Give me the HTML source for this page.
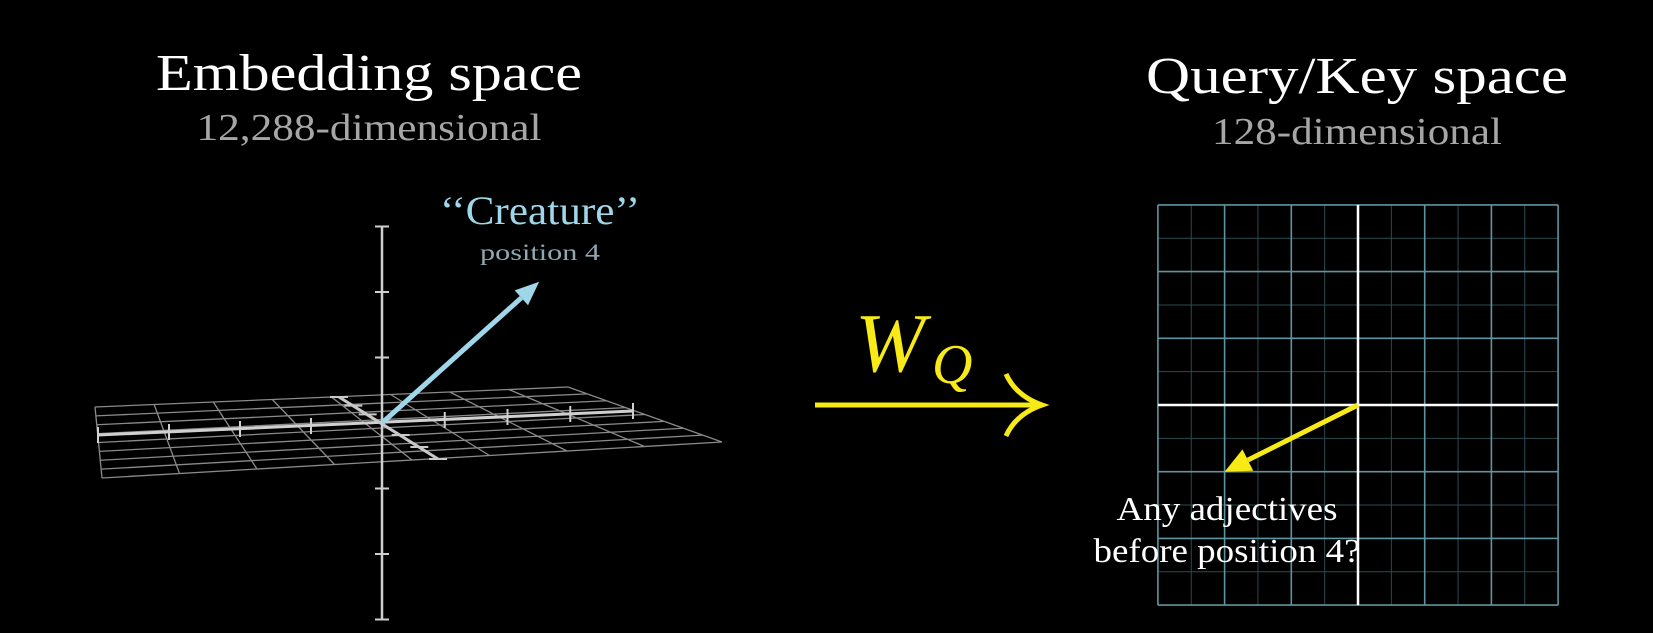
<!DOCTYPE html>
<html><head><meta charset="utf-8"><style>
html,body{margin:0;padding:0;background:#000;}
svg{display:block}
text{font-family:"Liberation Serif",serif}
</style></head><body>
<svg id="c" width="1653" height="633" viewBox="0 0 1653 633">
<rect width="1653" height="633" fill="#000"/>
<text x="369" y="90" font-size="52" fill="#fff" text-anchor="middle" textLength="426" lengthAdjust="spacingAndGlyphs">Embedding space</text>
<text x="369" y="140" font-size="38" fill="#a6a6a6" text-anchor="middle" textLength="345" lengthAdjust="spacingAndGlyphs">12,288-dimensional</text>
<text x="1357" y="93" font-size="52" fill="#fff" text-anchor="middle" textLength="422" lengthAdjust="spacingAndGlyphs">Query/Key space</text>
<text x="1357" y="144" font-size="38" fill="#a6a6a6" text-anchor="middle" textLength="290" lengthAdjust="spacingAndGlyphs">128-dimensional</text>
<text x="540" y="224" font-size="40" fill="#9fd6e9" text-anchor="middle" textLength="200" lengthAdjust="spacingAndGlyphs">‘‘Creature’’</text>
<text x="540" y="260" font-size="23" fill="#8fa9b3" text-anchor="middle" textLength="120" lengthAdjust="spacingAndGlyphs">position 4</text>
<g id="left"></g>
<g id="right"></g>
<g>
<text x="855" y="371" font-size="84" font-style="italic" fill="#f7ea16">W</text>
<text x="932" y="383" font-size="56" font-style="italic" fill="#f7ea16">Q</text>
<line x1="815" y1="405" x2="1040" y2="405" stroke="#f7ea16" stroke-width="5"/>
<path d="M1006,374 Q1016,396 1042,405 Q1016,414 1006,436" fill="none" stroke="#f7ea16" stroke-width="5"/>
</g>
<text x="1227" y="520" font-size="34" fill="#fff" text-anchor="middle" textLength="221" lengthAdjust="spacingAndGlyphs">Any adjectives</text>
<text x="1227" y="562" font-size="34" fill="#fff" text-anchor="middle" textLength="267" lengthAdjust="spacingAndGlyphs">before position 4?</text>
</svg>
<script>
const NS="http://www.w3.org/2000/svg";
// data
const planeCols=[0,1,2,3,4,5,6,7,8];
const planeRows=[0,1,2,3,4,5,6,7,8];
const xTicks=[-4,-3,-2,-1,1,2,3,4];
const zTicks=[-3,-2,-1,1,2,3];
const yTicks=[-3,-2,-1,1,2,3];
const creatureVec=[2.4,2.2];
const qkGridMajor=[-3,-2,-1,0,1,2,3];
const qkGridMinor=[-2.5,-1.5,-0.5,0.5,1.5,2.5];
const queryVec=[-2,-1];

function mk(tag,attrs,parent){const e=document.createElementNS(NS,tag);for(const k in attrs)e.setAttribute(k,attrs[k]);parent.appendChild(e);return e;}
const L=document.getElementById('left');
const FL=[95,407],FR=[568,387],NR=[722,442],NL=[102,478];
function bil(u,v){
 const fx=FL[0]+(FR[0]-FL[0])*u, fy=FL[1]+(FR[1]-FL[1])*u;
 const nx=NL[0]+(NR[0]-NL[0])*u, ny=NL[1]+(NR[1]-NL[1])*u;
 return [fx+(nx-fx)*v, fy+(ny-fy)*v];}
planeCols.forEach(c=>{const a=bil(c/8,0),b=bil(c/8,1);
 const l=mk('line',{x1:a[0],y1:a[1],x2:b[0],y2:b[1],stroke:'#8a8a8a','stroke-width':1.3},L);
 
 });
planeRows.forEach(r=>{const a=bil(0,r/8),b=bil(1,r/8);
 const l=mk('line',{x1:a[0],y1:a[1],x2:b[0],y2:b[1],stroke:'#8a8a8a','stroke-width':1.3},L);
 
 });
const O=[382,423];
const xA=[98,435],xB=[633,411];
let ax=mk('line',{x1:xA[0],y1:xA[1],x2:xB[0],y2:xB[1],stroke:'#d0d0d0','stroke-width':3},L);


function xPos(t){const s=t<0?(O[0]-xA[0])/4:(xB[0]-O[0])/4;const x=O[0]+t*s;const y=t<0?O[1]+(xA[1]-O[1])*(-t/4):O[1]+(xB[1]-O[1])*(t/4);return [x,y];}
xTicks.forEach(t=>{const p=xPos(t);const l=mk('line',{x1:p[0],y1:p[1]-8,x2:p[0],y2:p[1]+8,stroke:'#d0d0d0','stroke-width':2},L);
 
 });
const zA=[339,397],zB=[438,459];
let az=mk('line',{x1:zA[0],y1:zA[1],x2:zB[0],y2:zB[1],stroke:'#c8c8c8','stroke-width':3},L);


zTicks.forEach(t=>{const e=t<0?zA:zB;const f=Math.abs(t)/3;const x=O[0]+(e[0]-O[0])*f,y=O[1]+(e[1]-O[1])*f;
 const l=mk('line',{x1:x-9,y1:y,x2:x+9,y2:y,stroke:'#c8c8c8','stroke-width':2},L);
 
 });
const yUnit=65.5;
let ay=mk('line',{x1:O[0],y1:O[1]-3*yUnit-1,x2:O[0],y2:620,stroke:'#cfcfcf','stroke-width':2.5},L);


yTicks.forEach(t=>{const y=O[1]-t*yUnit;const l=mk('line',{x1:O[0]-7,y1:y,x2:O[0]+7,y2:y,stroke:'#cfcfcf','stroke-width':2},L);
 
 });
const vs=65.5;
const tip=[O[0]+creatureVec[0]*vs,O[1]-creatureVec[1]*vs*0.98];
const dx=tip[0]-O[0],dy=tip[1]-O[1],len=Math.hypot(dx,dy),ux=dx/len,uy=dy/len;
const hb=[tip[0]-ux*24,tip[1]-uy*24];
let cv=mk('line',{x1:O[0],y1:O[1],x2:hb[0],y2:hb[1],stroke:'#9fd6e9','stroke-width':5},L);


let ch=mk('polygon',{points:`${tip[0]},${tip[1]} ${hb[0]-uy*10},${hb[1]+ux*10} ${hb[0]+uy*10},${hb[1]-ux*10}`,fill:'#9fd6e9'},L);



const R=document.getElementById('right');
const C=[1358,405],U=66.7;
function gx(v){return C[0]+v*U}
function gy(v){return C[1]-v*U}
qkGridMinor.forEach(v=>{
 const a=mk('line',{x1:gx(v),y1:gy(3),x2:gx(v),y2:gy(-3),stroke:'#2c4a52','stroke-width':1},R);
 
 
 const b=mk('line',{x1:gx(-3),y1:gy(v),x2:gx(3),y2:gy(v),stroke:'#2c4a52','stroke-width':1},R);
 
 });
qkGridMajor.forEach(v=>{ if(v===0)return;
 const a=mk('line',{x1:gx(v),y1:gy(3),x2:gx(v),y2:gy(-3),stroke:'#5f95a3','stroke-width':1.6},R);
 
 
 const b=mk('line',{x1:gx(-3),y1:gy(v),x2:gx(3),y2:gy(v),stroke:'#5f95a3','stroke-width':1.6},R);
 
 });
let rx=mk('line',{x1:gx(-3),y1:gy(0),x2:gx(3),y2:gy(0),stroke:'#fff','stroke-width':2.5},R);


let ry=mk('line',{x1:gx(0),y1:gy(3),x2:gx(0),y2:gy(-3),stroke:'#fff','stroke-width':2.5},R);


const qt=[gx(queryVec[0]),gy(queryVec[1])];
const qdx=qt[0]-C[0],qdy=qt[1]-C[1],ql=Math.hypot(qdx,qdy),qx=qdx/ql,qy=qdy/ql;
const qb=[qt[0]-qx*26,qt[1]-qy*26];
let qv=mk('line',{x1:C[0],y1:C[1],x2:qb[0],y2:qb[1],stroke:'#f7ea16','stroke-width':5},R);


let qh=mk('polygon',{points:`${qt[0]},${qt[1]} ${qb[0]-qy*12},${qb[1]+qx*12} ${qb[0]+qy*12},${qb[1]-qx*12}`,fill:'#f7ea16'},R);


</script>
</body></html>
